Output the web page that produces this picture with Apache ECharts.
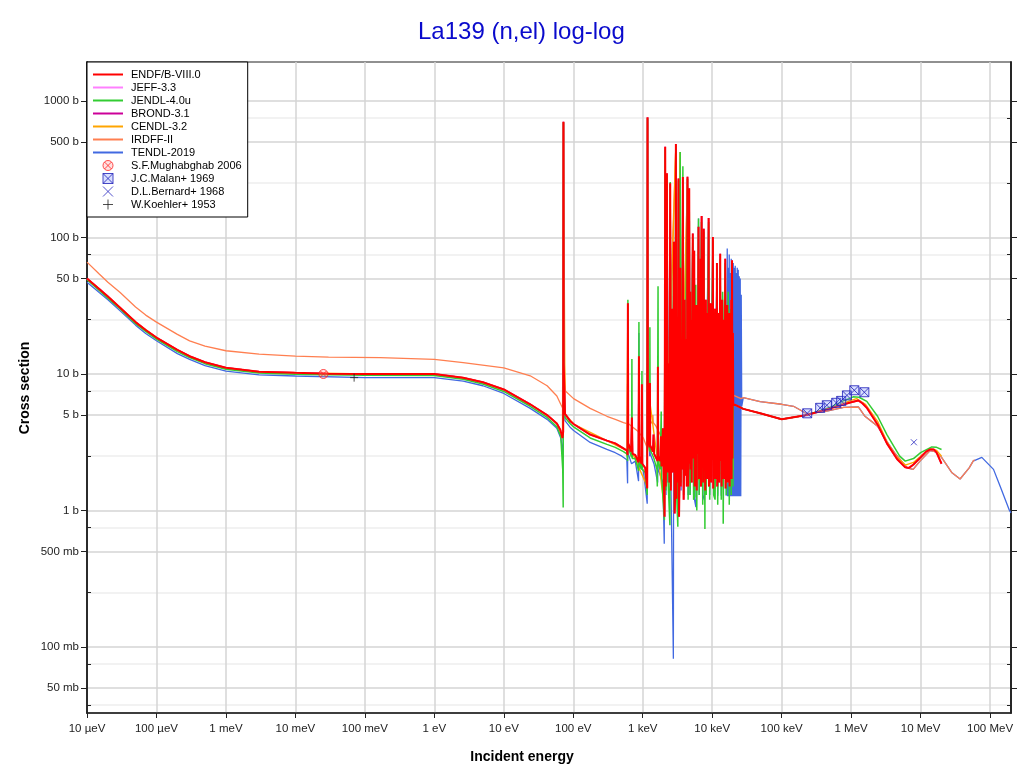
<!DOCTYPE html>
<html><head><meta charset="utf-8">
<script src="https://cdn.jsdelivr.net/npm/echarts@6/dist/echarts.min.js"></script>
<style>html,body{margin:0;padding:0;background:#fff}#c{width:1020px;height:773px}</style>
</head><body><div id="c"></div>
<script>
// ---------- tick values and labels ----------
const xTickValues = [1e-5,1e-4,1e-3,1e-2,1e-1,1,10,100,1e3,1e4,1e5,1e6,1e7,1e8];
const xTickLabels = ['10 µeV','100 µeV','1 meV','10 meV','100 meV','1 eV','10 eV','100 eV','1 keV','10 keV','100 keV','1 MeV','10 MeV','100 MeV'];
const yTickValues = [0.05,0.1,0.5,1,5,10,50,100,500,1000];
const yTickLabels = ['50 mb','100 mb','500 mb','1 b','5 b','10 b','50 b','100 b','500 b','1000 b'];
const yMinorValues = [0.0375,0.075,0.25,0.75,2.5,7.5,25,75,250,750];
const legendNames = ['ENDF/B-VIII.0','JEFF-3.3','JENDL-4.0u','BROND-3.1','CENDL-3.2','IRDFF-II','TENDL-2019','S.F.Mughabghab 2006','J.C.Malan+ 1969','D.L.Bernard+ 1968','W.Koehler+ 1953'];

// ---------- series values: [energy (eV), cross section (b)] ----------
const endf8 = [[1e-5,50],[1.5e-5,42],[2e-5,37],[3e-5,30.6],[5e-5,24],[7e-5,21],[1e-4,18.5],[2e-4,15],[3e-4,13.5],[5e-4,12.2],[1e-3,11.1],[3e-3,10.4],[1e-2,10.2],[0.03,10.05],[0.1,10.0],[0.3,10.0],[1,10.0],[2.6,9.4],[5,8.7],[10,7.7],[24,6.0],[42,5.0],[58,4.34],[65,3.9],[70,3.4],[71.6,3.8],[72.2,705],[72.8,12],[76,5.1],[91,4.5],[101,4.3],[175,3.6],[305,3.25],[402,3.1],[528,2.85],[590,2.75],[605,2.55],[611,33],[618,3.1],[680,2.7],[698,4.8],[712,2.6],[780,2.55],[868,2.25],[881,13.5],[893,2.5],[960,2.2],[973,8.4],[985,2.2],[1085,2.05],[1160,1.45],[1172,760],[1185,8.4],[1230,3.1],[1260,2.9],[1268,8.6],[1280,3.0],[1400,2.7],[1430,3.6],[1460,2.6],[1640,2.3],[1652,11.3],[1665,2.5],[1790,2.3],[1830,3.5],[1860,2.1],[1955,4],[2000,1.8],[2060,0.9],[2106,462],[2140,1.5],[2170,2.2],[2228,296],[2280,1.9],[2350,12],[2420,1.6],[2485,250],[2540,1.4],[2610,30],[2680,1.9],[2745,2.2],[2807,93],[2880,0.95],[2950,1.5],[3000,484],[3060,1.22],[3135,20],[3200,1.6],[3273,271],[3330,0.9],[3400,2.0],[3462,60],[3530,1.5],[3610,15],[3680,2.0],[3782,277],[3880,1.2],[3950,2.2],[4020,35],[4100,1.8],[4200,18],[4300,1.5],[4406,279],[4500,1.5],[4580,2.4],[4667,230],[4750,2.2],
[4824,40],[4905,2.0],[4987,25],[5070,1.6],[5250,107],[5420,2.4],[5509,80],[5600,1.5],[5694,18],[5790,2.2],[5886,32],[5985,1.4],[6085,22],[6190,2.6],[6350,120],[6450,1.7],[6610,30],[6721,2.0],[6830,70],[6900,1.5],[7040,144],[7130,2.3],[7280,28],[7400,1.6],[7560,116],[7650,2.8],[7820,24],[7930,1.4],[8100,35],[8200,2.1],[8390,20],[8480,1.7],[8650,28],[8760,2.4],[8880,139],[8980,1.5],[9200,26],[9300,2.0],[9500,33],[9620,1.6],[9870,22],[9990,2.5],[10230,101],[10340,1.45],[10560,30],[10700,2.2],[10920,22],[11050,1.7],[11300,30],[11430,2.6],[11700,65],[11810,1.5],[12080,20],[12200,2.0],[12480,28],[12620,1.6],[13040,76],[13220,2.3],[13480,24],[13660,1.5],[13940,35],[14130,2.1],[14410,18],[14600,1.7],[14890,25],[15100,2.5],[15400,70],[15600,1.45],[15920,22],[16130,2.2],[16450,32],[16680,1.6],[17010,20],[17240,2.0],[17580,28],[17820,1.5],[18170,24],[18420,2.1],[18780,35],[19030,1.7],[19290,68],[19550,2.4],[19870,20],[20070,6.0],
[22000,5.9],[28000,5.55],[49000,5.15],[100000,4.66],[231000,5.0],[500000,5.6],[1000000,6.2],[1270000,6.4],[1450000,6.1],[1680000,5.65],[2400000,4.27],[3270000,3.1],[4600000,2.37],[6000000,2.07],[6800000,2.05],[7900000,2.17],[10000000,2.45],[12000000,2.7],[13700000,2.8],[15500000,2.8],[17000000,2.65],[20000000,2.2]];

const jeff33 = endf8;
const brond31 = endf8;

const jendl40u = [[1e-5,49],[1.5e-5,41],[2e-5,36],[3e-5,30],[5e-5,23.4],[7e-5,20.5],[1e-4,18],[2e-4,14.6],[3e-4,13.2],[5e-4,11.9],[1e-3,10.85],[3e-3,10.15],[1e-2,9.95],[0.1,9.8],[1,9.75],[2.6,9.15],[5,8.45],[10,7.45],[24,5.8],[42,4.8],[58,4.1],[66,3.5],[70.5,2.0],[71.6,1.05],[72.2,700],[72.8,10],[76,4.8],[91,4.3],[101,4.1],[175,3.4],[305,3.05],[402,2.9],[528,2.7],[590,2.6],[605,2.3],[611,35],[618,2.9],[690,2.45],[698,12.9],[706,2.4],[780,2.4],[870,1.95],[881,24],[892,2.3],[960,2.0],[973,10.5],[985,2.0],[1085,1.9],[1160,1.3],[1172,750],[1185,7.5],[1230,2.9],[1260,2.7],[1268,22],[1280,2.8],[1450,2.4],[1600,2.0],[1620,1.5],[1660,44],[1680,2.2],[1780,2.0],[1845,5.3],[1870,1.8],[2050,0.85],[2106,440],[2160,1.4],[2228,290],[2300,1.8],[2460,0.78],[2485,255],[2560,1.5],[2807,90],[2870,1.0],[3000,470],[3080,1.3],[3200,0.76],[3273,260],[3350,1.5],[3459,424],[3560,1.6],[3782,333],[3880,1.3],[4406,270],[4500,1.2],[4667,225],[4800,1.3],[5250,100],[5400,1.2],[5600,1.27],[5800,45],[6000,1.0],[6350,138],[6500,1.3],[7000,130],[7300,1.1],[7560,110],[7850,0.73],[8000,30],[8200,1.3],[8880,130],[9200,1.2],[10230,95],[10500,1.3],[11000,1.2],[11700,60],[12000,1.1],[13040,70],[13500,1.2],[14100,40],[14400,0.8],[15000,30],[15400,65],[16000,1.3],[17000,40],[17600,1.1],[18200,30],[18800,1.3],[19300,60],[19900,1.5],[20070,6.0],[22000,5.9],[28000,5.55],[49000,5.15],[100000,4.66],[231000,5.0],[500000,5.7],[800000,6.4],[1070000,6.8],[1300000,6.75],[1680000,6.3],[2400000,4.9],[3270000,3.6],[4200000,2.9],[5000000,2.5],[6000000,2.3],[7900000,2.4],[10000000,2.65],[14500000,2.92],[17000000,2.9],[20000000,2.8]];

const cendl32 = [[1e-5,50],[2e-5,37],[3e-5,30.6],[5e-5,24],[1e-4,18.5],[2e-4,15],[3e-4,13.5],[5e-4,12.2],[1e-3,11.1],[3e-3,10.4],[1e-2,10.2],[0.1,10.0],[1,10.0],[2.6,9.4],[5,8.7],[10,7.7],[24,6.0],[42,5.0],[58,4.34],[70,3.4],[72.2,700],[76,5.1],[101,4.3],[305,3.25],[590,2.75],[611,33],[618,3.1],[1160,1.5],[1172,750],[1185,8],[1640,2.3],[1652,11],[1665,2.5],[2060,1.0],[2106,460],[2150,1.5],[3000,480],[3060,1.3],[3459,424],[3530,1.6],[4406,270],[4500,1.6],[20000,2.0],[20070,6.0],[28000,5.55],[49000,5.15],[100000,4.66],[231000,5.0],[500000,5.65],[1000000,6.4],[1200000,6.6],[1600000,6.0],[2400000,4.5],[3270000,3.2],[4200000,2.55],[6000000,2.15],[7900000,2.25],[10000000,2.5],[13700000,2.85],[17000000,2.75],[20000000,2.5]];

const irdff2 = [[1e-5,66],[1.5e-5,54],[2e-5,47],[3e-5,39.5],[5e-5,31],[7e-5,27],[1e-4,24],[2e-4,19.5],[3e-4,17.5],[5e-4,16],[1e-3,14.8],[3e-3,14.0],[1e-2,13.5],[0.03,13.3],[0.167,13.2],[1,12.8],[2.6,12.1],[10,11.1],[24,9.7],[42,8.2],[58,6.9],[66,6.0],[70,5.65],[71.5,6.2],[72.2,700],[73,15],[77,7.5],[101,6.6],[175,5.6],[305,4.9],[402,4.65],[528,4.4],[630,4.3],[850,3.8],[1020,3.4],[1150,2.9],[1172,700],[1190,6],[1250,4.65],[1380,4.3],[1400,5.0],[1420,4.4],[1550,4.15],[1780,3.6],[2050,3.0],[2106,450],[2160,3.2],[3000,480],[3060,3.0],[3459,424],[3520,3.0],[4406,270],[4480,2.9],[19500,2.8],[20000,7.0],[26000,6.6],[28000,6.7],[49000,6.27],[100000,6.0],[148000,5.8],[185000,5.45],[231000,5.1],[446000,5.35],[780000,5.7],[1270000,5.73],[1580000,4.9],[2400000,4.15],[3270000,3.2],[4200000,2.65],[6400000,2.05],[7800000,2.0],[9800000,2.3],[13700000,2.75],[16000000,2.7],[20000000,2.45],[28000000,1.9],[37000000,1.7],[50000000,2.05],[57000000,2.3],[60000000,2.35]];

const tendl2019 = [[1e-5,47],[1.5e-5,39.5],[2e-5,35],[3e-5,29],[5e-5,22.8],[7e-5,19.8],[1e-4,17.5],[2e-4,14.1],[3e-4,12.8],[5e-4,11.5],[1e-3,10.5],[3e-3,9.85],[1e-2,9.67],[0.1,9.4],[1,9.4],[2.6,8.85],[5,8.2],[10,7.2],[24,5.6],[42,4.65],[58,4.0],[66,3.4],[70,2.8],[71.5,2.4],[72.2,690],[72.8,9],[76,4.55],[91,4.05],[101,3.85],[175,3.15],[305,2.8],[402,2.65],[500,2.5],[590,2.35],[605,1.58],[611,30],[618,2.6],[690,2.2],[698,2.2],[780,2.3],[870,1.64],[881,20],[892,2.1],[1020,1.96],[1160,1.12],[1172,740],[1185,7],[1260,2.5],[1268,8],[1280,2.6],[1450,2.2],[1640,1.6],[1652,10],[1665,2.0],[1950,1.6],[2040,0.57],[2106,450],[2160,1.3],[2228,290],[2300,1.6],[2485,240],[2560,1.3],[2760,0.082],[2807,90],[2870,1.2],[3000,470],[3080,1.3],[3273,265],[3350,1.3],[3462,60],[3560,1.4],[3782,270],[3880,1.3],[4406,270],[4500,1.3],[4667,220],[4800,1.3],[5250,100],[5400,1.3],[5820,1.06],[6350,138],[6500,1.3],[7040,144],[7300,1.3],[7700,1.19],[8880,130],[9200,1.3],[9400,1.27],[10230,95],[10500,1.3],[11700,60],[12000,1.28],[13040,70],[13500,1.28],[15400,65],[15900,1.28],[16451,83],[16700,1.27],[17006,60],[17300,1.27],[17579,75],[17900,1.27],[18171,55],[18500,1.27],[18784,70],[19100,1.27],[19417,50],[19750,1.27],[20071,65],[20400,1.27],[20748,60],[21100,1.27],[21447,62],[21800,1.27],[22170,55],[22550,1.27],[22917,60],[23300,1.27],[23690,58],[24100,1.27],[24488,52],[24900,1.27],[25313,50],[25750,1.27],[26166,38],[26600,5.8],[28000,6.7],[49000,6.27],[100000,6.0],[148000,5.8],[185000,5.45],[231000,5.1],[446000,5.35],[780000,5.7],[1270000,5.73],[1580000,4.9],[2400000,4.15],[3270000,3.2],[4200000,2.65],[6400000,2.05],[7800000,2.0],[9800000,2.3],[13700000,2.75],[16000000,2.7],[20000000,2.45],[28000000,1.9],[37000000,1.7],[50000000,2.05],[57000000,2.3],[76000000,2.45],[112000000,2.0],[140000000,1.5],[190000000,1.0],[200000000,0.96]];

const mughabghab2006 = [[0.0253,10.0]];
const malan1969 = [[233e3,5.15],[358e3,5.65],[447e3,5.9],[610e3,6.15],[719e3,6.35],[870e3,6.97],[1.11e6,7.6],[1.55e6,7.35]];
const bernard1968 = [[8.0e6,3.16]];
const koehler1953 = [[0.070,9.4]];

// ---------- chart ----------
const FONT = '"Liberation Sans", Arial, sans-serif';
const SYM_CIRCLE_X = 'path://M10,5A5,5,0,1,1,0,5A5,5,0,1,1,10,5ZM1.6,1.6L8.4,8.4M8.4,1.6L1.6,8.4';
const SYM_BOX_X = 'path://M0,0L10,0L10,10L0,10ZM0,0L10,10M10,0L0,10';
const SYM_X = 'path://M0,0L10,10M10,0L0,10';
const SYM_PLUS = 'path://M5,0L5,10M0,5L10,5';
const LINE_ICON = 'path://M0,0L30,0L30,2L0,2Z';

function lookup(values, labels, v) {
  for (let i = 0; i < values.length; i++) {
    if (Math.abs(Math.log10(values[i]) - Math.log10(v)) < 1e-4) return labels[i];
  }
  return '';
}

const X_MIN = 1e-5, X_MAX = 2e8;
const Y_MIN = Math.pow(10, -1.484), Y_MAX = Math.pow(10, 3.286);

function yAx(pos, values, isMajor, withLabels, withSplit) {
  return {
    type: 'log', logBase: 10, min: Y_MIN, max: Y_MAX, position: pos,
    axisLine: { show: true, onZero: false, lineStyle: { color: '#222', width: 1.5 } },
    axisTick: { show: true, customValues: values, inside: !isMajor, length: isMajor ? 6 : 4,
      lineStyle: { color: '#222', width: 1 } },
    axisLabel: withLabels ? { show: true, customValues: values, margin: 8, fontSize: 11.5, color: '#222', fontFamily: FONT,
      formatter: v => lookup(yTickValues, yTickLabels, v) } : { show: false },
    splitLine: { show: withSplit, lineStyle: { color: isMajor ? '#d4d4d4' : '#eeeeee', width: 1.5 } },
    minorTick: { show: false }, minorSplitLine: { show: false }
  };
}

const lineSeries = [
  ['TENDL-2019', tendl2019, '#4169e1', 1.3],
  ['IRDFF-II', irdff2, '#ff7f50', 1.3],
  ['CENDL-3.2', cendl32, '#ffa500', 1.4],
  ['BROND-3.1', brond31, '#cc0099', 1.5],
  ['JEFF-3.3', jeff33, '#ff80ff', 1.5],
  ['JENDL-4.0u', jendl40u, '#33cc33', 1.5],
  ['ENDF/B-VIII.0', endf8, '#ff0000', 2]
].map(([name, data, color, w]) => ({
  name, type: 'line', data, symbol: 'none', showSymbol: false, color,
  lineStyle: { color, width: w }, xAxisIndex: 0, yAxisIndex: 0, animation: false,
  emphasis: { disabled: true }
}));

const scatterSeries = [
  ['S.F.Mughabghab 2006', mughabghab2006, SYM_CIRCLE_X, 9, '#ff2020', 'rgba(255,150,150,0.35)'],
  ['J.C.Malan+ 1969', malan1969, SYM_BOX_X, 9, '#1c1cb8', 'rgba(150,165,255,0.45)'],
  ['D.L.Bernard+ 1968', bernard1968, SYM_X, 6, '#2828c0', 'transparent'],
  ['W.Koehler+ 1953', koehler1953, SYM_PLUS, 8, '#222222', 'transparent']
].map(([name, data, sym, size, stroke, fill]) => ({
  name, type: 'scatter', data, symbol: sym, symbolSize: size, color: stroke,
  itemStyle: { color: fill, borderColor: stroke, borderWidth: 1 },
  xAxisIndex: 0, yAxisIndex: 0, animation: false, z: 5, emphasis: { disabled: true }
}));

const legendStyles = {
  'ENDF/B-VIII.0': '#ff0000', 'JEFF-3.3': '#ff80ff', 'JENDL-4.0u': '#33cc33', 'BROND-3.1': '#cc0099',
  'CENDL-3.2': '#ffa500', 'IRDFF-II': '#ff7f50', 'TENDL-2019': '#4169e1'
};
const legendData = legendNames.map(n => {
  if (legendStyles[n]) return { name: n, icon: LINE_ICON, itemStyle: { color: legendStyles[n], borderWidth: 0 } };
  const s = scatterSeries.find(s => s.name === n);
  return { name: n, icon: s.symbol, itemStyle: { color: s.itemStyle.color, borderColor: s.itemStyle.borderColor, borderWidth: 1 } };
});

const chart = echarts.init(document.getElementById('c'), null, { renderer: 'canvas' });
chart.setOption({
  animation: false,
  backgroundColor: '#ffffff',
  title: { text: 'La139 (n,el) log-log', left: 418, top: 20, padding: 0,
    textStyle: { fontSize: 24, fontWeight: 'normal', color: '#0a0acc', fontFamily: FONT } },
  grid: { left: 87, right: 9, top: 62, bottom: 60, show: true, borderColor: '#222', borderWidth: 1.2, backgroundColor: 'transparent' },
  legend: {
    orient: 'vertical', left: 87, top: 62, padding: [6, 6, 6, 6],
    backgroundColor: '#ffffff', borderColor: '#000', borderWidth: 1, borderRadius: 0,
    itemWidth: 30, itemHeight: 10, itemGap: 0, selectedMode: false, symbolKeepAspect: true,
    textStyle: { fontSize: 11, color: '#000', fontFamily: FONT, lineHeight: 13, padding: [0, 0, 0, 3] },
    data: legendData
  },
  xAxis: [{
    type: 'log', logBase: 10, min: X_MIN, max: X_MAX, position: 'bottom',
    axisLine: { show: true, onZero: false, lineStyle: { color: '#222', width: 1.5 } },
    axisTick: { show: true, customValues: xTickValues, length: 5, lineStyle: { color: '#222', width: 1 } },
    axisLabel: { customValues: xTickValues, margin: 10, fontSize: 11.5, color: '#222', fontFamily: FONT,
      formatter: v => lookup(xTickValues, xTickLabels, v) },
    splitLine: { show: true, lineStyle: { color: '#d4d4d4', width: 1.5 } },
    minorTick: { show: false }, minorSplitLine: { show: false }
  }],
  yAxis: [
    yAx('left', yTickValues, true, true, true),
    yAx('left', yMinorValues, false, false, true),
    yAx('right', yTickValues, true, false, false),
    yAx('right', yMinorValues, false, false, false)
  ],
  graphic: [
    { type: 'text', x: 25, y: 388, rotation: Math.PI / 2,
      style: { text: 'Cross section', font: 'bold 14px ' + FONT, fill: '#000', align: 'center', verticalAlign: 'middle', textAlign: 'center', textVerticalAlign: 'middle' } },
    { type: 'text', x: 522, y: 757,
      style: { text: 'Incident energy', font: 'bold 14px ' + FONT, fill: '#000', align: 'center', verticalAlign: 'middle', textAlign: 'center', textVerticalAlign: 'middle' } }
  ],
  series: lineSeries.concat(scatterSeries)
});
</script>
</body></html>
